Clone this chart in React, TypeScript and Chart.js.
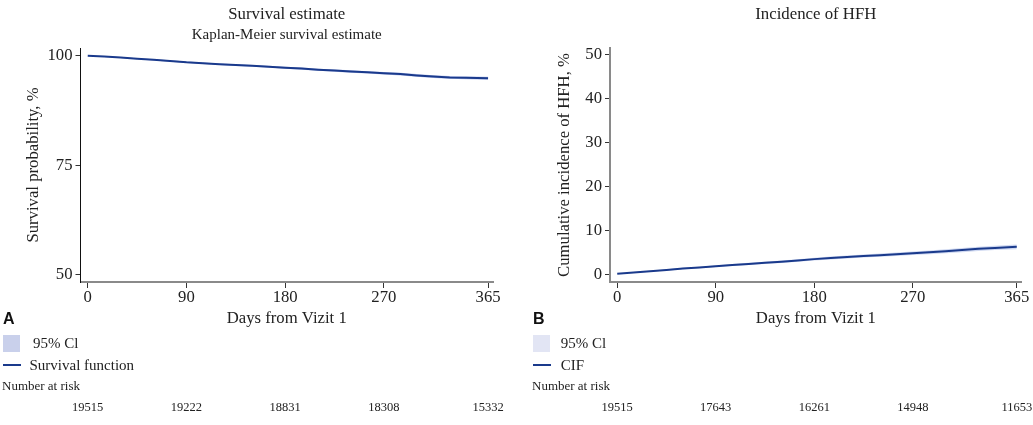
import React, { useEffect, useRef } from "react";
import { Chart, registerables } from "chart.js";

Chart.register(...registerables);

// ---------- data ----------
const days = [0, 15, 30, 45, 60, 75, 90, 105, 120, 135, 150, 165, 180, 195, 210, 225, 240, 255, 270, 285, 300, 315, 330, 345, 365];

const survival = [100, 99.8, 99.6, 99.3, 99.05, 98.8, 98.5, 98.3, 98.05, 97.85, 97.7, 97.5, 97.25, 97.05, 96.8, 96.6, 96.4, 96.2, 96.0, 95.8, 95.5, 95.25, 95.05, 94.95, 94.85];
const survivalLower = [100, 99.7, 99.48, 99.16, 98.9, 98.64, 98.33, 98.12, 97.86, 97.65, 97.49, 97.28, 97.02, 96.81, 96.55, 96.34, 96.13, 95.92, 95.71, 95.5, 95.19, 94.93, 94.72, 94.61, 94.5];
const survivalUpper = [100, 99.88, 99.71, 99.43, 99.19, 98.95, 98.66, 98.47, 98.23, 98.04, 97.9, 97.71, 97.47, 97.28, 97.04, 96.85, 96.66, 96.47, 96.28, 96.09, 95.8, 95.56, 95.37, 95.28, 95.19];

const cif = [0.15, 0.45, 0.75, 1.05, 1.35, 1.6, 1.9, 2.15, 2.4, 2.65, 2.9, 3.2, 3.5, 3.75, 4.0, 4.2, 4.4, 4.6, 4.85, 5.05, 5.3, 5.55, 5.85, 6.05, 6.3];
const cifLower = [0.1, 0.35, 0.62, 0.9, 1.18, 1.41, 1.69, 1.92, 2.15, 2.39, 2.62, 2.9, 3.19, 3.42, 3.66, 3.85, 4.04, 4.22, 4.45, 4.63, 4.86, 5.09, 5.37, 5.55, 5.76];
const cifUpper = [0.2, 0.55, 0.88, 1.2, 1.52, 1.79, 2.11, 2.38, 2.65, 2.91, 3.18, 3.5, 3.81, 4.08, 4.34, 4.55, 4.76, 4.98, 5.25, 5.47, 5.74, 6.01, 6.33, 6.55, 6.84];

const xTicks = [0, 90, 180, 270, 365];
const survivalYTicks = [50, 75, 100];
const cifYTicks = [0, 10, 20, 30, 40, 50];

const riskSurvival = [19515, 19222, 18831, 18308, 15332];
const riskCif = [19515, 17643, 16261, 14948, 11653];

// ---------- styling ----------
const SERIF = "'Liberation Serif', 'Times New Roman', serif";
const SANS = "'Liberation Sans', Arial, sans-serif";
const LINE = "#1a3a8c";
const AXIS_FONT = 16.7;

type PanelCfg = {
  width: number;
  letter: string;
  title: string;
  subtitle?: string;
  yTitle: string;
  yMin: number;
  yMax: number;
  yTicks: number[];
  main: number[];
  lower: number[];
  upper: number[];
  risk: number[];
  lineLabel: string;
  bandFill: string;
  legendSquare: string;
  yAxisWidth: number;
  yTitlePad: number;
  yBorderColor: string;
  yBorderWidth: number;
  padRight: number;
  lx: number;
  textX1: number;
  textX2: number;
};

function makeDecor(cfg: PanelCfg) {
  return {
    id: "decor" + cfg.letter,
    afterDraw(chart: any) {
      const ctx = chart.ctx as CanvasRenderingContext2D;
      const ca = chart.chartArea;
      const xs = chart.scales.x;
      const cx = (ca.left + ca.right) / 2;
      ctx.save();
      ctx.fillStyle = "#222";
      ctx.textAlign = "center";
      ctx.textBaseline = "middle";
      ctx.font = `16.8px ${SERIF}`;
      ctx.fillText(cfg.title, cx, 15);
      if (cfg.subtitle) {
        ctx.font = `15px ${SERIF}`;
        ctx.fillText(cfg.subtitle, cx, 35);
      }
      ctx.textAlign = "left";
      ctx.font = `bold 16px ${SANS}`;
      ctx.fillStyle = "#111";
      ctx.fillText(cfg.letter, cfg.lx, 320);
      ctx.fillStyle = cfg.legendSquare;
      ctx.fillRect(cfg.lx, 335, 17, 17);
      ctx.fillStyle = "#222";
      ctx.font = `15px ${SERIF}`;
      ctx.fillText("95% Cl", cfg.textX1, 344);
      ctx.strokeStyle = LINE;
      ctx.lineWidth = 2;
      ctx.beginPath();
      ctx.moveTo(cfg.lx, 365);
      ctx.lineTo(cfg.lx + 18, 365);
      ctx.stroke();
      ctx.fillText(cfg.lineLabel, cfg.textX2, 366);
      ctx.font = `13px ${SERIF}`;
      ctx.fillText("Number at risk", cfg.lx - 1, 387);
      ctx.textAlign = "center";
      ctx.font = `12.5px ${SERIF}`;
      xTicks.forEach((d, i) => {
        ctx.fillText(String(cfg.risk[i]), xs.getPixelForValue(d), 408);
      });
      ctx.restore();
    },
  };
}

function Panel({ cfg, left }: { cfg: PanelCfg; left: number }) {
  const ref = useRef<HTMLCanvasElement | null>(null);
  useEffect(() => {
    if (!ref.current) return;
    const pts = (arr: number[]) => days.map((d, i) => ({ x: d, y: arr[i] }));
    const chart = new Chart(ref.current, {
      type: "line",
      data: {
        datasets: [
          {
            label: cfg.lineLabel,
            data: pts(cfg.main),
            borderColor: LINE,
            borderWidth: 2,
            pointRadius: 0,
            tension: 0,
            fill: false,
          },
          {
            label: "lower",
            data: pts(cfg.lower),
            borderColor: "rgba(0,0,0,0)",
            borderWidth: 0,
            pointRadius: 0,
            fill: false,
          },
          {
            label: "95% Cl",
            data: pts(cfg.upper),
            borderColor: "rgba(0,0,0,0)",
            borderWidth: 0,
            pointRadius: 0,
            backgroundColor: cfg.bandFill,
            fill: "-1",
          },
        ],
      },
      options: {
        responsive: false,
        animation: false,
        devicePixelRatio: 1,
        layout: { padding: { left: 0, top: 48, right: cfg.padRight, bottom: 96.4 } },
        plugins: { legend: { display: false }, tooltip: { enabled: false }, title: { display: false } },
        font: { family: SERIF },
        scales: {
          x: {
            type: "linear",
            min: -6.6,
            max: 369.5,
            afterFit: (s: any) => {
              s.height = 46.6;
            },
            afterBuildTicks: (s: any) => {
              s.ticks = xTicks.map((v) => ({ value: v }));
            },
            ticks: {
              padding: 0,
              color: "#222",
              font: { family: SERIF, size: AXIS_FONT },
              autoSkip: false,
              maxRotation: 0,
              callback: (v: any) => String(v),
            },
            grid: { drawOnChartArea: false, drawTicks: true, tickLength: 6, color: "#333", lineWidth: 1 },
            border: { display: true, color: "#8a8a8a", width: 2 },
            title: {
              display: true,
              text: "Days from Vizit 1",
              color: "#222",
              font: { family: SERIF, size: AXIS_FONT },
              padding: { top: 0, bottom: 0 },
            },
          },
          y: {
            type: "linear",
            min: cfg.yMin,
            max: cfg.yMax,
            afterFit: (s: any) => {
              s.width = cfg.yAxisWidth;
            },
            afterBuildTicks: (s: any) => {
              s.ticks = cfg.yTicks.map((v) => ({ value: v }));
            },
            ticks: {
              padding: 3,
              color: "#222",
              font: { family: SERIF, size: AXIS_FONT },
              autoSkip: false,
              callback: (v: any) => String(v),
            },
            grid: { drawOnChartArea: false, drawTicks: true, tickLength: 5, color: "#333", lineWidth: 1 },
            border: { display: true, color: cfg.yBorderColor, width: cfg.yBorderWidth },
            title: {
              display: true,
              text: cfg.yTitle,
              color: "#222",
              font: { family: SERIF, size: AXIS_FONT },
              padding: { top: cfg.yTitlePad, bottom: 0 },
            },
          },
        },
      } as any,
      plugins: [makeDecor(cfg)],
    });
    return () => chart.destroy();
  }, [cfg]);
  return (
    <canvas
      ref={ref}
      width={cfg.width}
      height={425}
      style={{ position: "absolute", left, top: 0, width: cfg.width, height: 425 }}
    />
  );
}

const leftCfg: PanelCfg = {
  width: 515,
  letter: "A",
  title: "Survival estimate",
  subtitle: "Kaplan-Meier survival estimate",
  yTitle: "Survival probability, %",
  yMin: 48.4,
  yMax: 101.75,
  yTicks: survivalYTicks,
  main: survival,
  lower: survivalLower,
  upper: survivalUpper,
  risk: riskSurvival,
  lineLabel: "Survival function",
  bandFill: "rgba(130,150,220,0.55)",
  legendSquare: "#c9d0eb",
  yAxisWidth: 80.5,
  yTitlePad: 24,
  yBorderColor: "#111",
  yBorderWidth: 1,
  padRight: 22,
  lx: 3,
  textX1: 33,
  textX2: 29.5,
};

const rightCfg: PanelCfg = {
  width: 518,
  letter: "B",
  title: "Incidence of HFH",
  yTitle: "Cumulative incidence of HFH, %",
  yMin: -1.7,
  yMax: 51.5,
  yTicks: cifYTicks,
  main: cif,
  lower: cifLower,
  upper: cifUpper,
  risk: riskCif,
  lineLabel: "CIF",
  bandFill: "rgba(150,170,225,0.45)",
  legendSquare: "#e2e5f4",
  yAxisWidth: 95,
  yTitlePad: 40,
  yBorderColor: "#8a8a8a",
  yBorderWidth: 2,
  padRight: 11.3,
  lx: 18,
  textX1: 45.7,
  textX2: 45.7,
};

export default function App() {
  return (
    <div
      style={{
        position: "fixed",
        left: 0,
        top: 0,
        width: 1033,
        height: 425,
        background: "#fff",
        overflow: "hidden",
      }}
    >
      <Panel cfg={leftCfg} left={0} />
      <Panel cfg={rightCfg} left={515} />
    </div>
  );
}
